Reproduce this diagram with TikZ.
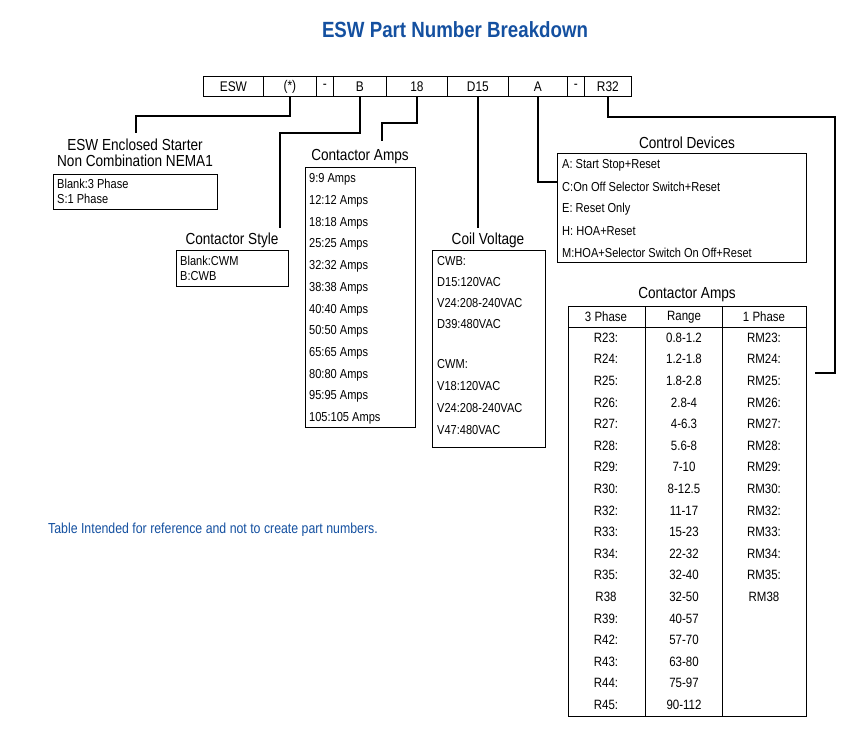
\documentclass[tikz,border=0pt]{standalone}
\usepackage{fontspec}
\setmainfont{Liberation Sans}[FakeStretch=0.85]
\usetikzlibrary{positioning}
\definecolor{eswblue}{RGB}{20,80,160}
\tikzset{
  cell/.style={draw, line width=0.8pt, minimum height=20pt, inner sep=0pt, font=\fontsize{14}{14}\selectfont},
  head/.style={font=\fontsize{16}{17}\selectfont},
  item/.style={anchor=west, inner sep=0pt, font=\fontsize{13}{13}\selectfont},
  tab/.style={font=\fontsize{13.5}{14}\selectfont},
  frame/.style={draw, line width=0.8pt, inner sep=0pt},
  link/.style={line width=1.5pt}
}
\begin{document}
\begin{tikzpicture}[x=1pt,y=-1pt]
    \useasboundingbox (0,0) rectangle (850,731);
    %% Title
    \node[text=eswblue, font=\bfseries\fontsize{22}{23}\selectfont] (title) at (455,30) {ESW Part Number Breakdown};
    %% Part number cells
    \foreach \a/\b/\t [count=\i] in {203/263/ESW,263/316/(*),316/333/-,333/386/B,386/447/18,447/508/D15,508/567/A,567/584/-,584/631/R32}
        \node[cell, minimum width=\b-\a, anchor=north west] (c\i) at (\a,76) {\t};
    %% ESW enclosed starter
    \node[head, align=center] (esw) at (135,153) {ESW Enclosed Starter\\[-1pt]Non Combination NEMA1};
    \node[frame, minimum width=164, minimum height=35, anchor=north west] (eswbox) at (53,174) {};
    \node[item] at (57,184) {Blank:3 Phase};
    \node[item] at (57,199) {S:1 Phase};
    %% Contactor style
    \node[head] (style) at (232,240) {Contactor Style};
    \node[frame, minimum width=112, minimum height=36, anchor=north west] (stylebox) at (176,250) {};
    \node[item] at (180,261) {Blank:CWM};
    \node[item] at (180,276) {B:CWB};
    %% Contactor amps
    \node[head] (amps) at (360,157) {Contactor Amps};
    \node[frame, minimum width=110, minimum height=260, anchor=north west] (ampsbox) at (305,167) {};
    \foreach \t [count=\i] in {9:9 Amps,12:12 Amps,18:18 Amps,25:25 Amps,32:32 Amps,38:38 Amps,40:40 Amps,50:50 Amps,65:65 Amps,80:80 Amps,95:95 Amps,105:105 Amps}
        \node[item] at (309,158+21.7*\i) {\t};
    %% Coil voltage
    \node[head] (coil) at (488,240) {Coil Voltage};
    \node[frame, minimum width=113, minimum height=197, anchor=north west] (coilbox) at (432,250) {};
    \foreach \t/\y in {CWB:/261,D15:120VAC/282,V24:208-240VAC/303,D39:480VAC/324,CWM:/364,V18:120VAC/386,V24:208-240VAC/408,V47:480VAC/430}
        \node[item] at (437,\y) {\t};
    %% Control devices
    \node[head] (ctrl) at (687,143) {Control Devices};
    \node[frame, minimum width=249, minimum height=109, anchor=north west] (ctrlbox) at (557,153) {};
    \foreach \t [count=\i] in {A: Start Stop+Reset,C:On Off Selector Switch+Reset,E: Reset Only,H: HOA+Reset,M:HOA+Selector Switch On Off+Reset}
        \node[item] at (562,143+22*\i) {\t};
    %% Contactor amps table
    \node[head] (tamps) at (687,295) {Contactor Amps};
    \draw[line width=0.8pt] (568,306) rectangle (806,716);
    \draw[line width=0.8pt] (568,327) -- (806,327);
    \draw[line width=0.8pt] (645,306) -- (645,716);
    \draw[line width=0.8pt] (722,306) -- (722,716);
    \node[tab] (h1) at (606,317) {3 Phase};
    \node[tab] (h2) at (684,317) {Range};
    \node[tab] (h3) at (764,317) {1 Phase};
    \foreach \p/\r/\q [count=\i] in {R23:/0.8-1.2/RM23:,R24:/1.2-1.8/RM24:,R25:/1.8-2.8/RM25:,R26:/2.8-4/RM26:,R27:/4-6.3/RM27:,R28:/5.6-8/RM28:,R29:/7-10/RM29:,R30:/8-12.5/RM30:,R32:/11-17/RM32:,R33:/15-23/RM33:,R34:/22-32/RM34:,R35:/32-40/RM35:,R38/32-50/RM38,R39:/40-57/,R42:/57-70/,R43:/63-80/,R44:/75-97/,R45:/90-112/} {
        \node[tab] at (606,316+21.6*\i) {\p};
        \node[tab] at (684,316+21.6*\i) {\r};
        \node[tab] at (764,316+21.6*\i) {\q};
    }
    %% Note
    \node[text=eswblue, anchor=west, inner sep=0pt, font=\fontsize{14.5}{15}\selectfont] (note) at (48,530) {Table Intended for reference and not to create part numbers.};
    %% Connectors
    \coordinate (k2) at (136,133);
    \coordinate (k4) at (280,228);
    \coordinate (k5) at (382,141);
    \coordinate (k6) at (480,228);
    \coordinate (k9) at (815,373);
    \draw[link] (c2.south) |- (136,116) -- (k2);
    \draw[link] (c4.south) |- (280,133) -- (k4);
    \draw[link] (c5.south) |- (382,123) -- (k5);
    \draw[link] (c6.south) -- (c6.south |- k6);
    \draw[link] (c7.south) |- (ctrlbox.west |- 0,182);
    \draw[link] (c9.south) |- (835,117) |- (k9);
\end{tikzpicture}
\end{document}
